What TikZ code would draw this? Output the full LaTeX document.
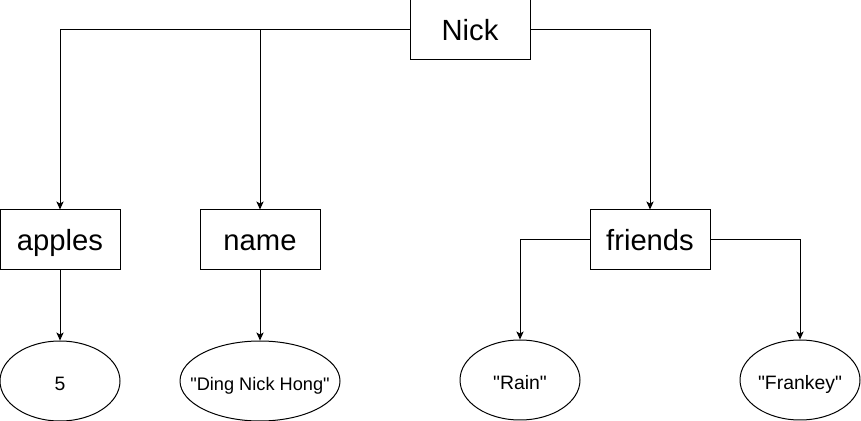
\documentclass[tikz,border=0pt]{standalone}
\usepackage{fontspec}
\setmainfont{Liberation Sans}[Ligatures=TeXOff]
\usetikzlibrary{arrows.meta, positioning, shapes.geometric}
\newcommand{\valtext}[1]{\makebox[0pt]{#1}}

\begin{document}
\begin{tikzpicture}[
x=0.5pt, y=-0.5pt,
line width=0.5pt,
node distance=35pt,
key/.style={draw, rectangle, minimum width=60pt, minimum height=30pt, inner sep=0pt,
  text height=10.6pt, text depth=0.5pt, font=\fontsize{14.6}{17}\selectfont},
value/.style={draw, ellipse, minimum width=60pt, minimum height=40pt, inner sep=0pt,
  text height=10pt, text depth=0.5pt, font=\fontsize{9.7}{12}\selectfont},
arrow/.style={-{Stealth[length=4pt, width=3.6pt, inset=1pt]}}
]
\useasboundingbox (0,0) rectangle (861,421);

\node[key] (nick) at (470,30) {Nick};
\node[key] (apples) at (60,240) {apples};
\node[key] (name) at (260,240) {name};
\node[key] (friends) at (650,240) {friends};

\node[value] (five) [below=of apples] {\valtext{5}};
\node[value, minimum width=80pt, font=\fontsize{9.1}{12}\selectfont] (ding) [below=of name] {\valtext{"Ding Nick Hong"}};
\node[value] (rain) at (520,380) {\valtext{"Rain"}};
\node[value] (frankey) at (800,380) {\valtext{"Frankey"}};

\draw[arrow] (nick.west) -| (apples.north);
\draw[arrow] (nick.west) -| (name.north);
\draw[arrow] (nick.east) -| (friends.north);
\draw[arrow] (apples) -- (five);
\draw[arrow] (name) -- (ding);
\draw[arrow] (friends.west) -| (rain.north);
\draw[arrow] (friends.east) -| (frankey.north);

\end{tikzpicture}
\end{document}
